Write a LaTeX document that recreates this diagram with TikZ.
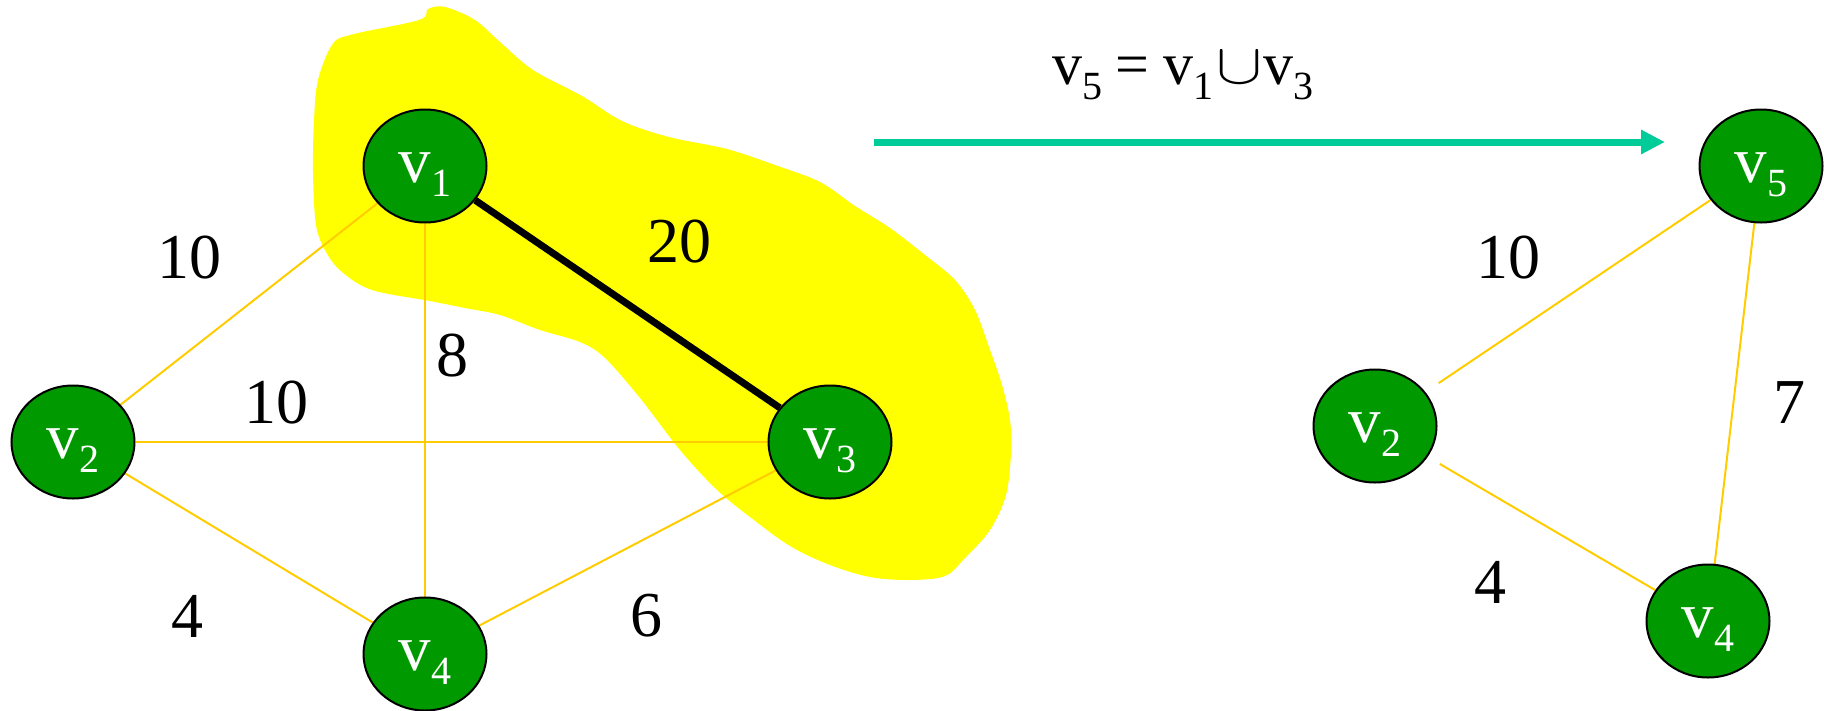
\RequirePackage{fix-cm}
\documentclass[tikz,border=0pt]{standalone}
\usepackage{fontspec}
\setmainfont{Liberation Serif}
\usetikzlibrary{shapes.geometric,arrows.meta,backgrounds}
\definecolor{vgreen}{RGB}{0,153,0}
\definecolor{eorange}{RGB}{255,204,0}
\definecolor{blobyellow}{RGB}{255,255,0}
\definecolor{arrteal}{RGB}{0,204,153}
\newcommand{\vsub}[1]{v\raisebox{-14pt}{\fontsize{40}{42}\selectfont #1}}
\newcommand{\fsub}[1]{\raisebox{-15pt}{\fontsize{40}{42}\selectfont #1}}
\begin{document}
\begin{tikzpicture}[x=1pt,y=-1pt,
  vert/.style={ellipse,draw=black,line width=2pt,fill=vgreen,minimum width=123pt,minimum height=113pt,inner sep=0pt},
  vtext/.style={text=white,font=\fontsize{65}{70}\selectfont,inner sep=0pt,yshift=-9pt},
  wlab/.style={font=\fontsize{64}{70}\selectfont,inner sep=0pt},
  yedge/.style={draw=eorange,line width=2pt},
  heavy/.style={draw=black,line width=7pt},
  conn/.style={draw=arrteal,line width=7pt,-{Triangle[length=24pt,width=23pt]}}
  ]
\useasboundingbox (0,0) rectangle (1824,710);

% left graph vertices
\node[vert,label={[vtext]center:\vsub{1}}] (v1) at (425,166) {};
\node[vert,label={[vtext]center:\vsub{2}}] (v2) at (73,442) {};
\node[vert,label={[vtext]center:\vsub{3}}] (v3) at (830,442) {};
\node[vert,label={[vtext]center:\vsub{4}}] (v4) at (425,654) {};

% right graph vertices
\node[vert,label={[vtext]center:\vsub{5}}] (v5) at (1761,166) {};
\node[vert,label={[vtext]center:\vsub{2}}] (w2) at (1375,426) {};
\node[vert,label={[vtext]center:\vsub{4}}] (w4) at (1708,621) {};

% weights
\node[wlab] (l12) at (189,258) {10};
\node[wlab] (l13) at (679,242) {20};
\node[wlab] (l14) at (452,356) {8};
\node[wlab] (l23) at (276,403) {10};
\node[wlab] (l24) at (187,616) {4};
\node[wlab] (l34) at (646,616) {6};
\node[wlab] (r25) at (1508,258) {10};
\node[wlab] (r54) at (1789,403) {7};
\node[wlab] (r24) at (1490,582) {4};

% formula
\node[anchor=base west,font=\fontsize{60}{70}\selectfont,inner sep=0pt] (formula) at (1052,84)
  {v\fsub{5}\hspace{13pt}=\hspace{14pt}v\fsub{1}\hspace{3pt}\raisebox{1pt}{\scalebox{1.15}[0.95]{$\cup$}}\hspace{1pt}v\fsub{3}};

% arrow
\coordinate (as) at (874,142);
\coordinate (ae) at (1665,142);
\draw[conn] (as) -- (ae);

\begin{scope}[on background layer]
  \fill[blobyellow] plot[smooth cycle, tension=0.55] coordinates {
    (428,9) (445,7) (475,20) (500,42) (533,70) (582,96) (622,121) (669,137)
    (727,149) (775,165) (820,182) (855,206) (890,228) (925,255)
    (955,280) (975,310) (990,350) (1002,385) (1010,420) (1011,453)
    (1006,495) (990,530) (965,558) (945,576) (910,580) (870,577)
    (830,565) (790,546) (750,517) (716,489) (680,450) (640,398)
    (605,358) (580,342) (540,330) (500,315) (465,308) (430,301) (372,290)
    (342,272) (326,252) (316,225) (313,172) (314,120) (318,80) (332,45)
    (350,35) (419,20)};
  \draw[yedge] (v1) -- (v2);
  \draw[yedge] (v1) -- (v4);
  \draw[yedge] (v2) -- (v3);
  \draw[yedge] (v2) -- (v4);
  \draw[yedge] (v3) -- (v4);
  \draw[heavy] (v1) -- (v3);
  \draw[yedge,shorten <=16pt] (w2) -- (v5);
  \draw[yedge,shorten <=14pt] (w2) -- (w4);
  \draw[yedge] (v5) -- (w4);
\end{scope}
\end{tikzpicture}
\end{document}
